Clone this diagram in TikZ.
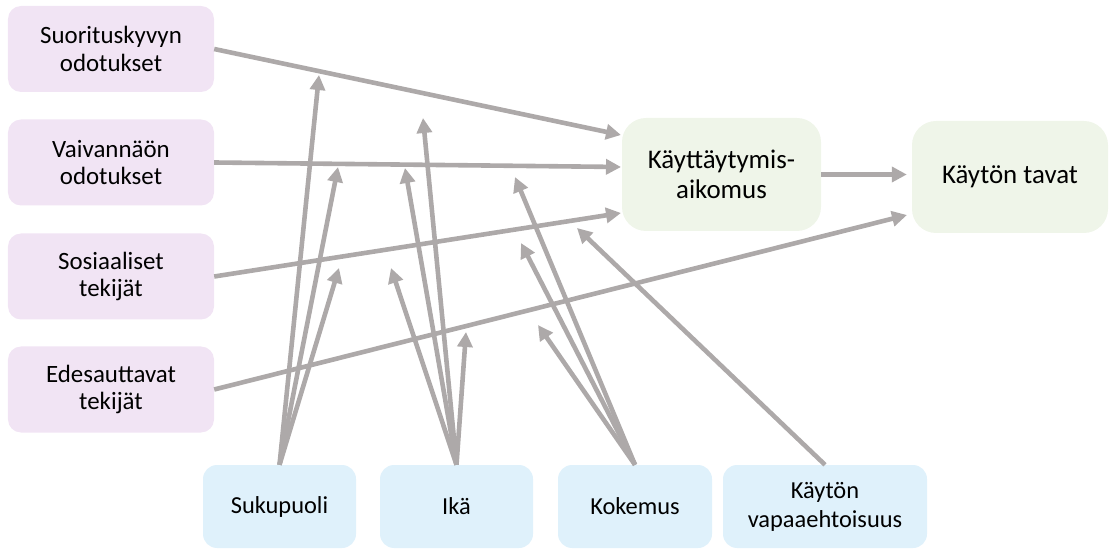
\documentclass[tikz,border=0pt]{standalone}
\usepackage{fontspec}
\setmainfont{Carlito}
\usetikzlibrary{arrows.meta}
\definecolor{lav}{HTML}{F1E4F4}
\definecolor{lgreen}{HTML}{EFF5E9}
\definecolor{lblue}{HTML}{DFF1FB}
\definecolor{arrgray}{HTML}{ADA9A9}
\definecolor{txt}{HTML}{000000}
\begin{document}
\begin{tikzpicture}[x=1bp,y=-1bp,
  lbox/.style={fill=lav, rounded corners=13bp, minimum width=206bp, minimum height=86bp,
    align=center, inner sep=0pt, text=txt, font=\fontsize{25}{28}\selectfont},
  gbox/.style={fill=lgreen, rounded corners=24bp, align=center, inner sep=0pt, text=txt,
    font=\fontsize{27}{30}\selectfont},
  bbox/.style={fill=lblue, rounded corners=14bp, minimum height=83bp, align=center,
    inner sep=0pt, text=txt, font=\fontsize{24.5}{29}\selectfont},
  arr/.style={draw=arrgray, line width=4.6bp, -{Triangle[length=15bp,width=15bp]}}]
\useasboundingbox (0,0) rectangle (1111,549);

% left factor boxes
\node[lbox] (s1) at (111,49) {Suorituskyvyn\\odotukset};
\node[lbox] (s2) at (111,162.5) {Vaivannäön\\odotukset};
\node[lbox] (s3) at (111,276.5) {Sosiaaliset\\tekijät};
\node[lbox] (s4) at (111,389.5) {Edesauttavat\\tekijät};

% outcome boxes
\node[gbox, minimum width=199bp, minimum height=113bp] (A) at (721.5,174.5) {Käyttäytymis-\\aikomus};
\node[gbox, minimum width=196bp, minimum height=112bp] (B) at (1010,177) {Käytön tavat};

% moderator boxes
\node[bbox, minimum width=153bp] (g) at (279.5,506.5) {Sukupuoli};
\node[bbox, minimum width=153bp] (i) at (456.5,506.5) {Ikä};
\node[bbox, minimum width=154bp] (k) at (635,506.5) {Kokemus};
\node[bbox, minimum width=204bp] (v) at (825,506.5) {Käytön\\vapaaehtoisuus};

% end points
\coordinate (a1) at (621,135);
\coordinate (a2) at (621,167);
\coordinate (a3) at (621,213);
\coordinate (b1) at (907,215);
\coordinate (g1) at (319,75);
\coordinate (g2) at (338,167);
\coordinate (g3) at (339,268);
\coordinate (i1) at (423,118);
\coordinate (i2) at (405,168);
\coordinate (i3) at (391,268);
\coordinate (i4) at (466,332);
\coordinate (k1) at (515,177);
\coordinate (k2) at (521,243);
\coordinate (k3) at (538,325);
\coordinate (v1) at (577,228);

% main paths
\draw[arr] (s1.east) -- (a1);
\draw[arr] (s2.east) -- (a2);
\draw[arr] (s3.east) -- (a3);
\draw[arr] (s4.east) -- (b1);
\draw[arr, shorten >=5bp] (A.east) -- (B.west |- A.east);

% moderator arrows
\draw[arr] (g.north) -- (g1);
\draw[arr] (g.north) -- (g2);
\draw[arr] (g.north) -- (g3);
\draw[arr] (i.north) -- (i1);
\draw[arr] (i.north) -- (i2);
\draw[arr] (i.north) -- (i3);
\draw[arr] (i.north) -- (i4);
\draw[arr] (k.north) -- (k1);
\draw[arr] (k.north) -- (k2);
\draw[arr] (k.north) -- (k3);
\draw[arr] (v.north) -- (v1);
\end{tikzpicture}
\end{document}
